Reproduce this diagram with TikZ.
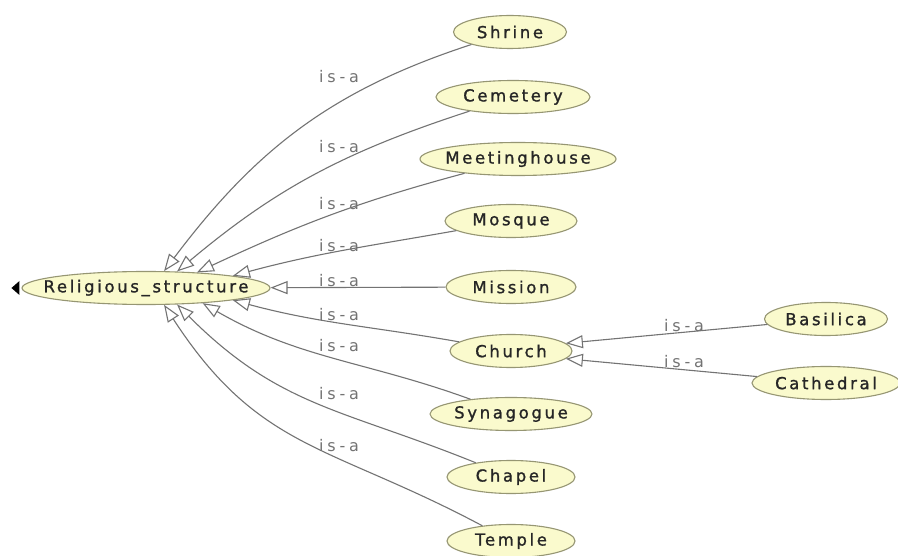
\documentclass[tikz,border=0pt]{standalone}
\usepackage{fontspec}
\newfontfamily\nfont[LetterSpace=16, FakeBold=1.2]{DejaVu Sans}
\newfontfamily\lfont[LetterSpace=24]{DejaVu Sans}
\usetikzlibrary{arrows.meta,shapes.geometric}
\definecolor{nodefill}{RGB}{250,250,205}
\definecolor{nodeline}{RGB}{150,150,115}
\definecolor{edgecol}{RGB}{115,115,115}
\definecolor{lblcol}{RGB}{115,115,115}
\begin{document}
\begin{tikzpicture}[x=1pt,y=-1pt,
  cls/.style={ellipse, draw=nodeline, line width=1.1pt, fill=nodefill, inner sep=0pt,
    minimum height=33pt, font=\nfont\fontsize{16.5}{18}\selectfont, text=black!85},
  isa/.style={draw=edgecol, line width=1.1pt, -{Triangle[open, length=17pt, width=13pt]}},
  lbl/.style={text=lblcol, font=\lfont\fontsize{16}{18}\selectfont, inner sep=0pt}]
\useasboundingbox (0,0) rectangle (898,556);
\fill[white] (0,0) rectangle (898,556);

\node[cls, minimum width=248pt] (root) at (146,288) {\makebox[0pt]{Religious\_structure}};
\node[cls, minimum width=113pt] (shrine) at (510,32) {\makebox[0pt]{Shrine}};
\node[cls, minimum width=154pt] (cemetery) at (513,97) {\makebox[0pt]{Cemetery}};
\node[cls, minimum width=196pt] (meeting) at (518,159) {\makebox[0pt]{Meetinghouse}};
\node[cls, minimum width=132pt] (mosque) at (511,221) {\makebox[0pt]{Mosque}};
\node[cls, minimum width=130pt] (mission) at (511,287) {\makebox[0pt]{Mission}};
\node[cls, minimum width=122pt] (church) at (511,351) {\makebox[0pt]{Church}};
\node[cls, minimum width=162pt] (synagogue) at (511,414) {\makebox[0pt]{Synagogue}};
\node[cls, minimum width=128pt] (chapel) at (511,477) {\makebox[0pt]{Chapel}};
\node[cls, minimum width=128pt] (temple) at (511,541) {\makebox[0pt]{Temple}};
\node[cls, minimum width=123pt] (basilica) at (826,319) {\makebox[0pt]{Basilica}};
\node[cls, minimum width=148pt] (cathedral) at (826,383) {\makebox[0pt]{Cathedral}};

\fill[black] ([xshift=-10pt]root.west) -- ++(8,-7) -- ++(0,14) -- cycle;

\draw[isa] (shrine) to[out=198,in=53] (root.43);
\draw[isa] (cemetery) to[out=198,in=40] (root.28);
\draw[isa] (meeting) to[out=195,in=25] (root.17);
\draw[isa] (mosque) to[out=190,in=15] (root.8);
\draw[isa] (mission) -- (root);
\draw[isa] (church) to[out=170,in=-15] (root.-8);
\draw[isa] (synagogue) to[out=160,in=-30] (root.-15);
\draw[isa] (chapel) to[out=158,in=-45,looseness=1.1] (root.-28);
\draw[isa] (temple) to[out=152,in=-57,looseness=1.15] (root.-43);
\draw[isa] (basilica) -- (church.8);
\draw[isa] (cathedral) -- (church.-8);

\node[lbl] (l1) at (339,77) {is-a};
\node[lbl] (l2) at (339,147) {is-a};
\node[lbl] (l3) at (339,204) {is-a};
\node[lbl] (l4) at (339,246) {is-a};
\node[lbl] (l5) at (339,281) {is-a};
\node[lbl] (l6) at (339,315) {is-a};
\node[lbl] (l7) at (339,346) {is-a};
\node[lbl] (l8) at (339,394) {is-a};
\node[lbl] (l9) at (339,446) {is-a};
\node[lbl] (l10) at (684,326) {is-a};
\node[lbl] (l11) at (684,362) {is-a};
\end{tikzpicture}
\end{document}
